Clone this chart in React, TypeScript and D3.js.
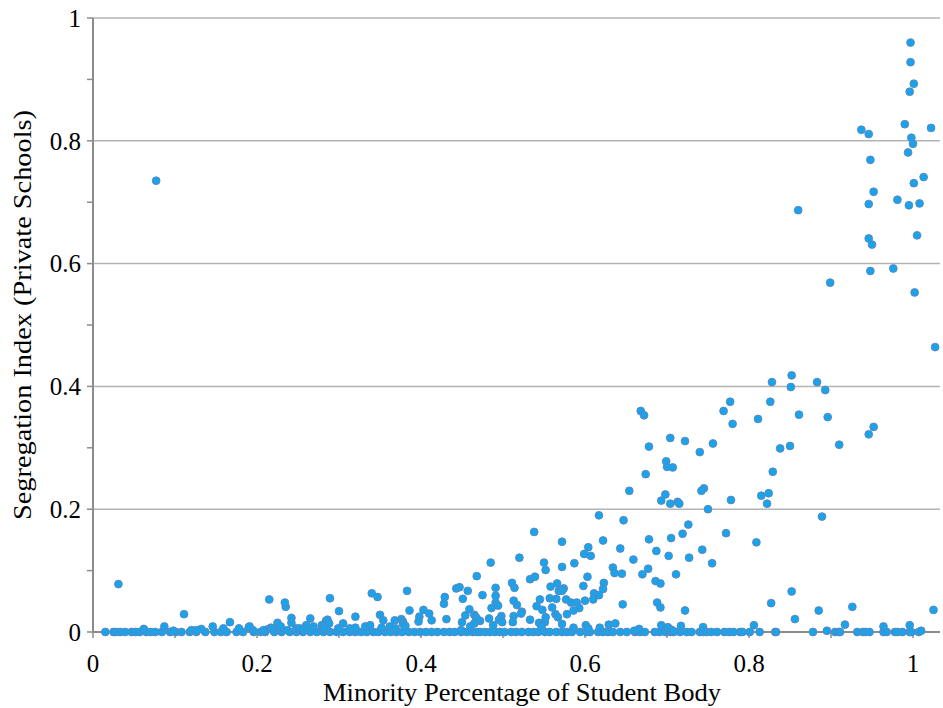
import React from 'react';
import * as d3 from 'd3';

// schools well above zero (segregation index >= 0.2)
const highPoints: [number, number][] = [
  [0.077, 0.735],
  [0.997, 0.96], [0.997, 0.928], [1.001, 0.893], [0.996, 0.88], [0.99, 0.827], [1.022, 0.821],
  [0.937, 0.818], [0.946, 0.811], [0.998, 0.805], [1.0, 0.795], [0.994, 0.781], [0.948, 0.769],
  [1.013, 0.741], [1.001, 0.731], [0.952, 0.717], [0.86, 0.687], [0.946, 0.697], [0.981, 0.704],
  [0.995, 0.695], [1.008, 0.698], [1.005, 0.646], [0.946, 0.641], [0.95, 0.631], [0.948, 0.588],
  [0.976, 0.592], [0.899, 0.569], [1.002, 0.553], [1.027, 0.464],
  [0.828, 0.407], [0.852, 0.418], [0.851, 0.399], [0.883, 0.407], [0.893, 0.394], [0.777, 0.375],
  [0.769, 0.36], [0.826, 0.375], [0.78, 0.339], [0.811, 0.347], [0.861, 0.354], [0.896, 0.35],
  [0.952, 0.334], [0.946, 0.322], [0.756, 0.307], [0.74, 0.293], [0.838, 0.299], [0.85, 0.303],
  [0.91, 0.305], [0.829, 0.261], [0.745, 0.234], [0.742, 0.23], [0.815, 0.222], [0.824, 0.226],
  [0.778, 0.215], [0.822, 0.209], [0.75, 0.2],
  [0.668, 0.36], [0.672, 0.353], [0.704, 0.316], [0.722, 0.311], [0.678, 0.302], [0.699, 0.278],
  [0.7, 0.269], [0.707, 0.268], [0.674, 0.257], [0.654, 0.23], [0.698, 0.224], [0.693, 0.214],
  [0.704, 0.209], [0.713, 0.212], [0.715, 0.209],
];

// 0.05 .. 0.2
const midPoints: [number, number][] = [
  [0.889, 0.188], [0.772, 0.161], [0.809, 0.146], [0.743, 0.134], [0.755, 0.112], [0.852, 0.066],
  [0.617, 0.19], [0.647, 0.182], [0.726, 0.175], [0.538, 0.163], [0.719, 0.16], [0.572, 0.147],
  [0.622, 0.149], [0.705, 0.153], [0.678, 0.151], [0.604, 0.138], [0.643, 0.136], [0.687, 0.132],
  [0.599, 0.127], [0.607, 0.124], [0.702, 0.124], [0.727, 0.121], [0.52, 0.121], [0.485, 0.113],
  [0.55, 0.113], [0.552, 0.101], [0.659, 0.118], [0.572, 0.106], [0.587, 0.112], [0.634, 0.105],
  [0.636, 0.096], [0.645, 0.095], [0.67, 0.094], [0.677, 0.103], [0.711, 0.094], [0.603, 0.09],
  [0.533, 0.086], [0.539, 0.09], [0.686, 0.083], [0.692, 0.079], [0.511, 0.08], [0.514, 0.072],
  [0.491, 0.072], [0.558, 0.074], [0.566, 0.079], [0.574, 0.071], [0.568, 0.067], [0.572, 0.067],
  [0.623, 0.08], [0.622, 0.07], [0.598, 0.075], [0.611, 0.063], [0.617, 0.06], [0.61, 0.053],
  [0.475, 0.06], [0.491, 0.059], [0.513, 0.051], [0.545, 0.053], [0.557, 0.055], [0.565, 0.054],
  [0.577, 0.053], [0.6, 0.051], [0.468, 0.091],
  [0.031, 0.078], [0.215, 0.053], [0.234, 0.048], [0.289, 0.055], [0.34, 0.063], [0.347, 0.057],
  [0.383, 0.067], [0.429, 0.057], [0.443, 0.071], [0.447, 0.073], [0.457, 0.067], [0.451, 0.054],
];

// just above zero
const lowPoints: [number, number][] = [
  [0.827, 0.047], [0.926, 0.041], [0.885, 0.035], [1.025, 0.036], [0.856, 0.021], [0.744, 0.008],
  [0.806, 0.011], [0.917, 0.012], [0.964, 0.009], [0.996, 0.011], [0.895, 0.002], [1.01, 0.002],
  [0.491, 0.048], [0.494, 0.043], [0.517, 0.044], [0.541, 0.042], [0.548, 0.036], [0.56, 0.04],
  [0.564, 0.029], [0.567, 0.024], [0.578, 0.029], [0.583, 0.048], [0.59, 0.048], [0.593, 0.039],
  [0.586, 0.035], [0.646, 0.045], [0.688, 0.048], [0.692, 0.04], [0.722, 0.035], [0.486, 0.039],
  [0.523, 0.033], [0.522, 0.03], [0.513, 0.026], [0.512, 0.016], [0.498, 0.026], [0.495, 0.02],
  [0.499, 0.016], [0.483, 0.022], [0.488, 0.011], [0.472, 0.018], [0.533, 0.02], [0.544, 0.015],
  [0.551, 0.016], [0.552, 0.024], [0.547, 0.008], [0.572, 0.013], [0.586, 0.007], [0.601, 0.011],
  [0.604, 0.006], [0.618, 0.007], [0.629, 0.012], [0.637, 0.014], [0.666, 0.005], [0.66, 0.002],
  [0.693, 0.011], [0.701, 0.008], [0.705, 0.004], [0.717, 0.01], [0.709, 0.001],
  [0.235, 0.041], [0.3, 0.034], [0.242, 0.023], [0.242, 0.015], [0.225, 0.015], [0.265, 0.022],
  [0.305, 0.014], [0.32, 0.025], [0.35, 0.028], [0.354, 0.019], [0.368, 0.019], [0.376, 0.021],
  [0.378, 0.017], [0.386, 0.035], [0.403, 0.036], [0.41, 0.03], [0.413, 0.019], [0.398, 0.025],
  [0.397, 0.017], [0.428, 0.046], [0.431, 0.021], [0.459, 0.037], [0.454, 0.027], [0.45, 0.016],
  [0.465, 0.028], [0.467, 0.024], [0.469, 0.02], [0.465, 0.014], [0.378, 0.013], [0.381, 0.01],
  [0.46, 0.009], [0.449, 0.003], [0.284, 0.018], [0.287, 0.014], [0.285, 0.006], [0.26, 0.011],
  [0.269, 0.009], [0.248, 0.006], [0.254, 0.004], [0.332, 0.009], [0.338, 0.011], [0.191, 0.009],
  [0.195, 0.003], [0.212, 0.004], [0.217, 0.007], [0.226, 0.006], [0.229, 0.009], [0.237, 0.003],
  [0.28, 0.006], [0.279, 0.011], [0.299, 0.006], [0.313, 0.006], [0.32, 0.007], [0.352, 0.007],
  [0.362, 0.009], [0.369, 0.006],
  [0.111, 0.029], [0.087, 0.009], [0.062, 0.005], [0.146, 0.009], [0.159, 0.006], [0.167, 0.016],
  [0.178, 0.006], [0.19, 0.008], [0.12, 0.003], [0.132, 0.005], [0.126, 0.003], [0.098, 0.002],
  [0.208, 0.003], [0.218, 0.006], [0.252, 0.006], [0.257, 0.003], [0.286, 0.02], [0.288, 0.014],
  [0.281, 0.006],
];

// minority share of the schools whose index is 0
const zeroRowX: number[] = [
  0.015, 0.025, 0.028, 0.033, 0.039, 0.047, 0.052, 0.057, 0.065, 0.07, 0.076, 0.084, 0.094, 0.101,
  0.108, 0.118, 0.126, 0.137, 0.148, 0.156, 0.163, 0.175, 0.183, 0.196, 0.204, 0.21, 0.221, 0.23,
  0.24, 0.248, 0.256, 0.265, 0.273, 0.281, 0.289, 0.297, 0.305, 0.313,
  0.32, 0.327, 0.334, 0.342, 0.348, 0.356, 0.363, 0.37, 0.377, 0.385, 0.392, 0.399, 0.406, 0.413,
  0.42, 0.428, 0.435, 0.441, 0.449, 0.456, 0.463, 0.468,
  0.472, 0.478, 0.484, 0.49, 0.496, 0.502, 0.51, 0.516, 0.523, 0.531, 0.537, 0.543, 0.551, 0.557,
  0.565, 0.572, 0.578, 0.584, 0.594, 0.602, 0.606, 0.616, 0.622, 0.628, 0.634, 0.643, 0.651, 0.661,
  0.667, 0.673, 0.685, 0.691, 0.698, 0.704, 0.708, 0.716, 0.724, 0.73,
  0.74, 0.744, 0.748, 0.754, 0.761, 0.77, 0.776, 0.781, 0.789, 0.792, 0.801, 0.813, 0.832, 0.833,
  0.878, 0.905, 0.909, 0.911, 0.932, 0.939, 0.942, 0.947, 0.964, 0.968, 0.978, 0.981, 0.987, 0.996,
  0.998, 1.007,
];

const xTicks = [0, 0.2, 0.4, 0.6, 0.8, 1];
const yTicks = [0, 0.2, 0.4, 0.6, 0.8, 1];
const minorTicks = [0, 0.1, 0.2, 0.3, 0.4, 0.5, 0.6, 0.7, 0.8, 0.9, 1];

const xTitle = 'Minority Percentage of Student Body';
const yTitle = 'Segregation Index (Private Schools)';

export default function App() {
  const width = 943;
  const height = 708;
  const left = 93;
  const right = 940;
  const top = 18;
  const bottom = 632;

  const x = d3.scaleLinear().domain([0, 1]).range([left, 913]);
  const y = d3.scaleLinear().domain([0, 1]).range([bottom, top]);

  const points: [number, number][] = [
    ...zeroRowX.map((v) => [v, 0] as [number, number]),
    ...lowPoints,
    ...midPoints,
    ...highPoints,
  ];

  const textStyle = { fontFamily: "'Liberation Serif', 'Times New Roman', Times, serif" };
  const axisColor = '#8c8c8c';

  return (
    <svg
      width={width}
      height={height}
      style={{ position: 'absolute', left: 0, top: 0, background: '#fff' }}
    >
      <g key="grid">
        {yTicks.filter((t) => t > 0).map((t) => (
          <line key={`grid-${t}`} x1={left} x2={right} y1={y(t)} y2={y(t)} stroke="#b4b4b4" strokeWidth={1.5} />
        ))}
      </g>
      <g key="axes">
        <line x1={left} x2={left} y1={top} y2={bottom} stroke={axisColor} strokeWidth={2} />
        <line x1={left} x2={right} y1={bottom} y2={bottom} stroke={axisColor} strokeWidth={2} />
        {minorTicks.map((t) => (
          <line key={`ytick-${t}`} x1={left - 6} x2={left} y1={y(t)} y2={y(t)} stroke={axisColor} strokeWidth={1.5} />
        ))}
        {minorTicks.map((t) => (
          <line key={`xtick-${t}`} x1={x(t)} x2={x(t)} y1={bottom} y2={bottom + 6} stroke={axisColor} strokeWidth={1.5} />
        ))}
      </g>
      <g key="points">
        {points.map((d, i) => (
          <circle
            key={`pt-${i}`}
            cx={x(d[0])}
            cy={y(d[1])}
            r={3.9}
            fill="#1aa3e8"
            stroke="#5a86c2"
            strokeWidth={0.9}
          />
        ))}
      </g>
      <g key="y-labels" textAnchor="end" fill="#000">
        {yTicks.map((t) => (
          <text key={`yl-${t}`} x={left - 12} y={y(t)} dy="0.35em" style={{ ...textStyle, fontSize: 25 }}>
            {d3.format('~g')(t)}
          </text>
        ))}
      </g>
      <g key="x-labels" textAnchor="middle" fill="#000">
        {xTicks.map((t) => (
          <text key={`xl-${t}`} x={x(t)} y={bottom + 40} style={{ ...textStyle, fontSize: 25 }}>
            {d3.format('~g')(t)}
          </text>
        ))}
      </g>
      <text
        x={522}
        y={701}
        textAnchor="middle"
        textLength={398}
        lengthAdjust="spacingAndGlyphs"
        style={{ ...textStyle, fontSize: 25 }}
      >
        {xTitle}
      </text>
      <text
        transform={`translate(31,315) rotate(-90)`}
        textAnchor="middle"
        textLength={410}
        lengthAdjust="spacingAndGlyphs"
        style={{ ...textStyle, fontSize: 25 }}
      >
        {yTitle}
      </text>
    </svg>
  );
}
